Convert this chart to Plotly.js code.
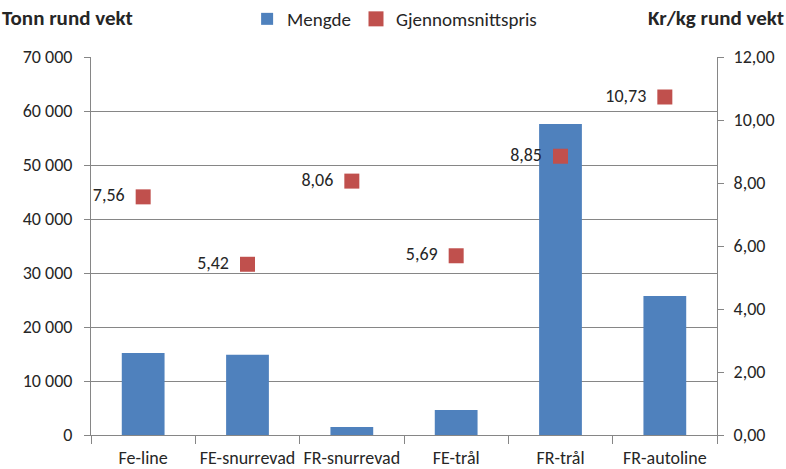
<!DOCTYPE html>
<html><head><meta charset="utf-8">
<script src="https://cdn.plot.ly/plotly-3.0.1.min.js"></script>
<style>body{margin:0;background:#fff}#c{width:786px;height:469px}</style>
</head><body><div id="c"></div>
<script>
const categories = ["Fe-line","FE-snurrevad","FR-snurrevad","FE-trål","FR-trål","FR-autoline"];
const mengde = [15200, 14850, 1480, 4630, 57600, 25750];
const pris = [7.56, 5.42, 8.06, 5.69, 8.85, 10.73];
const fontFam = "Carlito, Calibri, Lato, sans-serif";
const data = [
  {type:"bar", name:"Mengde", x:categories, y:mengde, marker:{color:"#4F81BD"}, yaxis:"y", hoverinfo:"none"},
  {type:"scatter", mode:"markers+text", name:"Gjennomsnittspris", x:categories, y:pris, yaxis:"y2",
   marker:{symbol:"square", size:15, color:"#C0504D"},
   texttemplate:"%{y:.2f}  ", textposition:"middle left", textfont:{size:18, color:"#262626", family:fontFam}, cliponaxis:false}
];
const layout = {
  width:786, height:469, separators:", ",
  margin:{l:91, r:69, t:57, b:34},
  paper_bgcolor:"#fff", plot_bgcolor:"#fff",
  font:{family:fontFam, size:18, color:"#262626"},
  bargap:0.59,
  showlegend:true,
  legend:{orientation:"h", x:0.485, xanchor:"center", y:1, yref:"container", yanchor:"top", font:{size:19}, itemwidth:20, tracegroupgap:0, traceorder:"normal"},
  xaxis:{type:"category", showline:true, linecolor:"#868686", ticks:"outside", tickson:"boundaries", ticklen:8, tickcolor:"#868686", showgrid:false, tickfont:{size:18}, tickangle:0, automargin:false, ticklabelstandoff:6},
  yaxis:{range:[0,70000], dtick:10000, tickformat:",d", showgrid:true, gridcolor:"#868686", showline:true, linecolor:"#868686", ticks:"outside", ticklen:6, tickcolor:"#868686", zeroline:false, tickfont:{size:18}, ticklabelstandoff:8},
  yaxis2:{overlaying:"y", side:"right", range:[0,12], dtick:2, tickformat:".2f", showgrid:false, showline:true, linecolor:"#868686", ticks:"outside", ticklen:6, tickcolor:"#868686", zeroline:false, tickfont:{size:18}, ticklabelstandoff:6},
  annotations:[
    {text:"<b>Tonn rund vekt</b>", xref:"paper", yref:"paper", x:-91/626, y:1+ (57-18)/378, xanchor:"left", yanchor:"middle", showarrow:false, font:{size:21}},
    {text:"<b>Kr/kg rund vekt</b>", xref:"paper", yref:"paper", x:1+69/626, y:1+(57-18)/378, xanchor:"right", yanchor:"middle", showarrow:false, font:{size:21}}
  ]
};
Plotly.newPlot("c", data, layout, {displayModeBar:false, staticPlot:true});
</script></body></html>
